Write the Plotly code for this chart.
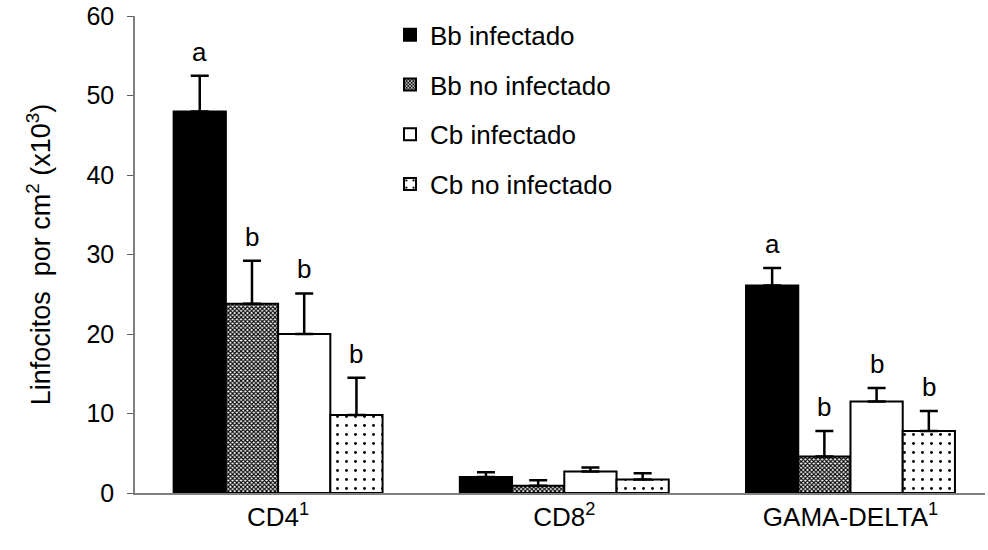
import plotly.graph_objects as go

categories = ["CD4<sup>1</sup>", "CD8<sup>2</sup>", "GAMA-DELTA<sup>1</sup>"]
series_names = ["Bb infectado", "Bb no infectado", "Cb infectado", "Cb no infectado"]
bb_inf = [48.0, 2.0, 26.1]
bb_noinf = [23.8, 0.9, 4.6]
cb_inf = [20.0, 2.7, 11.5]
cb_noinf = [9.8, 1.7, 7.8]
bb_inf_err = [4.5, 0.6, 2.2]
bb_noinf_err = [5.4, 0.7, 3.2]
cb_inf_err = [5.1, 0.5, 1.7]
cb_noinf_err = [4.7, 0.8, 2.5]
letters_bb_inf = ["a", "", "a"]
letters_bb_noinf = ["b", "", "b"]
letters_cb_inf = ["b", "", "b"]
letters_cb_noinf = ["b", "", "b"]

values = [bb_inf, bb_noinf, cb_inf, cb_noinf]
errors = [bb_inf_err, bb_noinf_err, cb_inf_err, cb_noinf_err]
letters = [letters_bb_inf, letters_bb_noinf, letters_cb_inf, letters_cb_noinf]

FONT = "Liberation Sans, Arial, sans-serif"

patterns = [
    dict(shape="", fgcolor="black", bgcolor="black"),
    dict(shape="x", fgcolor="#000000", bgcolor="#ffffff", size=3, solidity=0.6, fillmode="replace"),
    dict(shape="", fgcolor="white", bgcolor="white"),
    dict(shape=".", fgcolor="#000000", bgcolor="#ffffff", size=9, solidity=0.08, fillmode="replace"),
]
colors = ["black", "#777777", "white", "white"]

fig = go.Figure()
for i in range(4):
    fig.add_trace(go.Bar(
        name=series_names[i],
        x=categories,
        y=values[i],
        marker=dict(color=colors[i], line=dict(color="black", width=2), pattern=patterns[i]),
        error_y=dict(type="data", symmetric=False, array=errors[i],
                     arrayminus=[0] * len(errors[i]), color="black", thickness=2.5, width=9),
        legendgroup=series_names[i],
    ))

bargap = 0.27
bw = (1 - bargap) / 4
for i in range(4):
    off = (i - 1.5) * bw
    for j in range(3):
        if letters[i][j]:
            fig.add_annotation(
                x=j + off, y=values[i][j] + errors[i][j], xref="x", yref="y",
                text=letters[i][j], showarrow=False, yanchor="bottom", yshift=7,
                font=dict(family=FONT, size=26, color="black"),
            )

fig.update_layout(
    width=988, height=550,
    margin=dict(l=135, r=3, t=16, b=57),
    paper_bgcolor="white", plot_bgcolor="white",
    barmode="group", bargap=bargap, bargroupgap=0,
    font=dict(family=FONT, size=24, color="black"),
    showlegend=True,
    legend=dict(x=0.3, y=1.01, xanchor="left", yanchor="top",
                font=dict(family=FONT, size=26), tracegroupgap=13,
                bgcolor="rgba(0,0,0,0)", itemwidth=30),
)
fig.update_xaxes(
    type="category", range=[-0.5, 2.47], showline=True, linecolor="#808080", linewidth=1.5,
    showgrid=False, ticks="", tickfont=dict(family=FONT, size=26, color="black"),
)
fig.update_yaxes(
    range=[0, 60], tickvals=[0, 10, 20, 30, 40, 50, 60], showline=True, linecolor="#808080",
    linewidth=1.5, showgrid=False, zeroline=False, ticks="outside", ticklen=6, tickcolor="#606060",
    ticklabelstandoff=8,
    tickfont=dict(family=FONT, size=25, color="black"),
    title=dict(text="Linfocitos  por cm<sup>2</sup> (x10<sup>3</sup>)", font=dict(family=FONT, size=27), standoff=28),
)

fig.write_html("out.html")
